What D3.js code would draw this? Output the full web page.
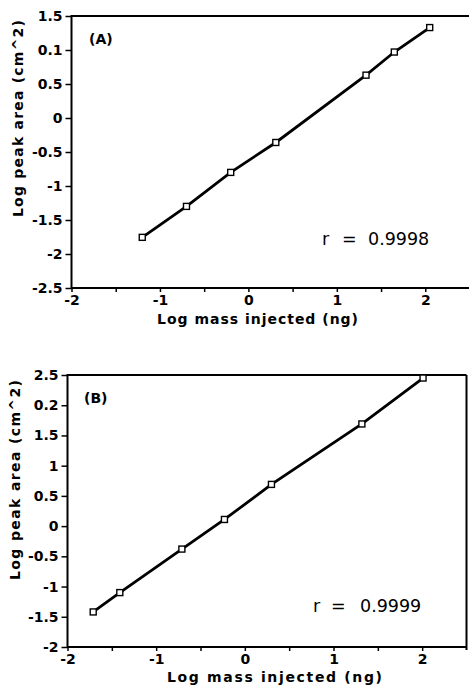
<!DOCTYPE html>
<html><head><meta charset="utf-8">
<script src="https://cdn.jsdelivr.net/npm/d3@7"></script>
<style>
html,body{margin:0;padding:0;background:#fff;}
svg{display:block;}
</style></head>
<body>
<svg id="chart" width="469" height="688"></svg>
<script>
// ---- data ----
const massA = [-1.20, -0.70, -0.20, 0.31, 1.33, 1.65, 2.05];
const areaA = [-1.755, -1.30, -0.80, -0.36, 0.63, 0.97, 1.33];
const massB = [-1.71, -1.41, -0.71, -0.23, 0.30, 1.32, 2.01];
const areaB = [-1.42, -1.10, -0.38, 0.11, 0.69, 1.69, 2.45];

const xMajorTicks = [-2, -1, 0, 1, 2];
const xMajorLabels = ["-2", "-1", "0", "1", "2"];
const xMinorTicks = [-1.5, -0.5, 0.5, 1.5];

const yTicksA = [-2.5, -2, -1.5, -1, -0.5, 0, 0.5, 1, 1.5];
const yLabelsA = ["-2.5", "-2", "-1.5", "-1", "-0.5", "0", "0.5", "0.1", "1.5"];
const yTicksB = [-2, -1.5, -1, -0.5, 0, 0.5, 1, 1.5, 2, 2.5];
const yLabelsB = ["-2", "-1.5", "-1", "-0.5", "0", "0.5", "1", "1.5", "0.2", "2.5"];

const panelLabels = ["(A)", "(B)"];
const rValues = ["0.9998", "0.9999"];
const xTitle = "Log mass injected (ng)";
const yTitle = "Log peak area (cm^2)";

const svg = d3.select("#chart");
const FONT = "DejaVu Sans";

const panels = [
  {mass: massA, area: areaA, yTicks: yTicksA, yLabels: yLabelsA,
   xr: [71.5, 469.5], yDom: [-2.5, 1.5], yr: [288, 16], rightBorder: false,
   label: panelLabels[0], labelPos: [89, 44], r: rValues[0], rPos: [322, 342, 368], rY: 245,
   xTitleX: [157, 358], xTitleY: 324, yTitleY: [20, 217], yTitleX: 23},
  {mass: massB, area: areaB, yTicks: yTicksB, yLabels: yLabelsB,
   xr: [67.5, 466.5], yDom: [-2, 2.5], yr: [647, 375], rightBorder: true,
   label: panelLabels[1], labelPos: [84, 403], r: rValues[1], rPos: [313, 331, 360], rY: 612,
   xTitleX: [167, 382], xTitleY: 682, yTitleY: [380, 580], yTitleX: 20}
];

panels.forEach(p => {
  const x = d3.scaleLinear().domain([-2, 2.5]).range(p.xr);
  const y = d3.scaleLinear().domain(p.yDom).range(p.yr);
  const g = svg.append("g");

  // frame
  const x0 = x(-2), x1 = x(2.5), y0 = y(p.yDom[0]), y1 = y(p.yDom[1]);
  g.append("line").attr("x1", x0).attr("x2", x1).attr("y1", y1).attr("y2", y1)
    .attr("stroke", "#000").attr("stroke-width", 2);
  if (p.rightBorder) {
    g.append("line").attr("x1", x1).attr("x2", x1).attr("y1", y1).attr("y2", y0 + 3)
      .attr("stroke", "#000").attr("stroke-width", 2);
  }

  // x axis
  const xAxis = d3.axisBottom(x).tickValues(xMajorTicks)
    .tickFormat((d, i) => xMajorLabels[i]).tickSize(4).tickPadding(3);
  const gx = g.append("g").attr("transform", `translate(0,${y0})`).call(xAxis);
  gx.select(".domain").remove();
  gx.selectAll(".tick line").attr("stroke-width", 1.5);
  gx.selectAll("text").attr("font-family", FONT).attr("font-size", 14).attr("font-weight", "bold");
  const xMinor = d3.axisBottom(x).tickValues(xMinorTicks).tickFormat("").tickSize(4);
  const gxm = g.append("g").attr("transform", `translate(0,${y0})`).call(xMinor);
  gxm.select(".domain").remove();
  gxm.selectAll(".tick line").attr("stroke-width", 1.5);
  g.append("line").attr("x1", x0).attr("x2", x1).attr("y1", y0).attr("y2", y0)
    .attr("stroke", "#000").attr("stroke-width", 2);

  // y axis
  const yAxis = d3.axisLeft(y).tickValues(p.yTicks)
    .tickFormat((d, i) => p.yLabels[i]).tickSize(6).tickPadding(3);
  const gy = g.append("g").attr("transform", `translate(${x0},0)`).call(yAxis);
  gy.select(".domain").remove();
  gy.selectAll(".tick line").attr("stroke-width", 1.5);
  gy.selectAll("text").attr("font-family", FONT).attr("font-size", 14).attr("font-weight", "bold");
  g.append("line").attr("x1", x0).attr("x2", x0).attr("y1", y1 - 1).attr("y2", y0 + 1)
    .attr("stroke", "#000").attr("stroke-width", 2);

  // data line
  const pts = p.mass.map((m, i) => [m, p.area[i]]);
  g.append("path").datum(pts)
    .attr("d", d3.line().x(d => x(d[0])).y(d => y(d[1])))
    .attr("fill", "none").attr("stroke", "#000").attr("stroke-width", 2.8);
  g.selectAll("rect.pt").data(pts).enter().append("rect")
    .attr("class", "pt")
    .attr("x", d => x(d[0]) - 3).attr("y", d => y(d[1]) - 3)
    .attr("width", 6).attr("height", 6)
    .attr("fill", "#fff").attr("stroke", "#000").attr("stroke-width", 1.4);

  // labels
  g.append("text").attr("x", p.labelPos[0]).attr("y", p.labelPos[1])
    .attr("font-family", FONT).attr("font-size", 14).attr("font-weight", "bold")
    .text(p.label);
  const rt = g.append("text").attr("y", p.rY)
    .attr("font-family", FONT).attr("font-size", 17.5);
  rt.append("tspan").attr("x", p.rPos[0]).text("r");
  rt.append("tspan").attr("x", p.rPos[1]).text("=");
  rt.append("tspan").attr("x", p.rPos[2]).text(p.r);

  // axis titles
  g.append("text").attr("x", p.xTitleX[0]).attr("y", p.xTitleY)
    .attr("font-family", FONT).attr("font-size", 14).attr("font-weight", "bold")
    .attr("textLength", p.xTitleX[1] - p.xTitleX[0]).attr("lengthAdjust", "spacing")
    .text(xTitle);
  g.append("text")
    .attr("transform", `translate(${p.yTitleX},${p.yTitleY[1]}) rotate(-90)`)
    .attr("font-family", FONT).attr("font-size", 14).attr("font-weight", "bold")
    .attr("textLength", p.yTitleY[1] - p.yTitleY[0]).attr("lengthAdjust", "spacing")
    .text(yTitle);
});
</script>
</body></html>
